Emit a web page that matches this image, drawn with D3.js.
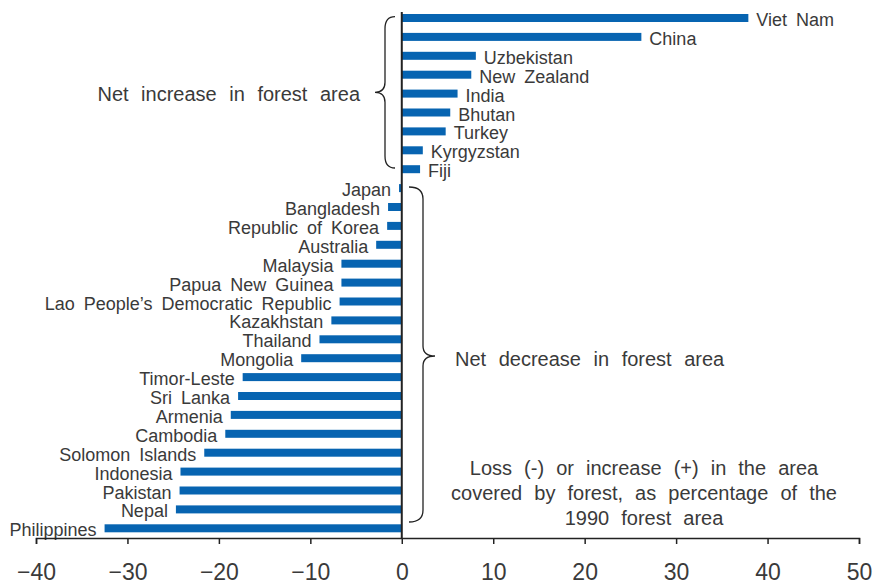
<!DOCTYPE html>
<html>
<head>
<meta charset="utf-8">
<script src="https://cdn.jsdelivr.net/npm/d3@7"></script>
<style>
  body { margin: 0; background: #fff; }
  text { font-family: "Liberation Sans", Arial, sans-serif; fill: #3a3a3a; }
</style>
</head>
<body>
<div id="chart"></div>
<script>
// countries, top to bottom
var countries = [
  "Viet Nam", "China", "Uzbekistan", "New Zealand", "India", "Bhutan", "Turkey",
  "Kyrgyzstan", "Fiji", "Japan", "Bangladesh", "Republic of Korea", "Australia",
  "Malaysia", "Papua New Guinea", "Lao People\u2019s Democratic Republic", "Kazakhstan",
  "Thailand", "Mongolia", "Timor-Leste", "Sri Lanka", "Armenia", "Cambodia",
  "Solomon Islands", "Indonesia", "Pakistan", "Nepal", "Philippines"
]

// change in forest area since 1990, %
var values = [
  37.9, 26.2, 8.1, 7.6, 6.1, 5.3, 4.8,
  2.3, 2.0, -0.3, -1.5, -1.6, -2.8,
  -6.6, -6.6, -6.8, -7.7,
  -9.0, -11.0, -17.4, -17.9, -18.7, -19.3,
  -21.6, -24.2, -24.3, -24.7, -32.5
]

var xTicks = [-40, -30, -20, -10, 0, 10, 20, 30, 40, 50]

var noteLines = [
  "Loss (-) or increase (+) in the area",
  "covered by forest, as percentage of the",
  "1990 forest area"
]

var width = 873, height = 583

var svg = d3.select("#chart").append("svg")
  .attr("width", width)
  .attr("height", height)

var x = d3.scaleLinear().domain([-40, 50]).range([36, 859])
var y = d3.scalePoint().domain(countries).range([18, 528.3])

var data = countries.map(function(c, i) { return {name: c, value: values[i]} })

var barH = 8

// bars
svg.append("g").selectAll("rect")
  .data(data)
  .enter().append("rect")
  .attr("x", function(d) { return x(Math.min(0, d.value)) })
  .attr("y", function(d) { return y(d.name) - barH / 2 })
  .attr("width", function(d) { return Math.abs(x(d.value) - x(0)) })
  .attr("height", barH)
  .attr("fill", "#0764b1")

// country labels
svg.append("g").selectAll("text")
  .data(data)
  .enter().append("text")
  .attr("x", function(d) { return d.value >= 0 ? x(d.value) + 8 : x(d.value) - 8 })
  .attr("y", function(d) { return y(d.name) + 8 })
  .attr("text-anchor", function(d) { return d.value >= 0 ? "start" : "end" })
  .style("font-size", "18px")
  .style("word-spacing", "4px")
  .text(function(d) { return d.name })

// zero line
svg.append("line")
  .attr("x1", x(0)).attr("x2", x(0))
  .attr("y1", 12).attr("y2", 538)
  .attr("stroke", "#222")
  .attr("stroke-width", 2)

// x axis
var xAxis = d3.axisBottom(x)
  .tickValues(xTicks)
  .tickSize(6)
  .tickPadding(20)
  .tickFormat(function(d) { return d < 0 ? "\u2212" + Math.abs(d) : d })

var gx = svg.append("g")
  .attr("transform", "translate(0,538)")
  .call(xAxis)
gx.select(".domain").attr("stroke", "#222").attr("stroke-width", 1.5)
gx.selectAll(".tick line").attr("stroke", "#222").attr("stroke-width", 1.5)
gx.selectAll(".tick text")
  .style("font-family", "'Liberation Sans', Arial, sans-serif")
  .style("font-size", "23px")
  .attr("fill", "#3a3a3a")

// curly brace, vertical, tip pointing toward xt
function brace(xe, xs, xt, y0, y1, ym) {
  return "M" + xe + "," + y0 +
    " Q" + xs + "," + y0 + " " + xs + "," + (y0 + 12) +
    " L" + xs + "," + (ym - 10) +
    " Q" + xs + "," + ym + " " + xt + "," + ym +
    " Q" + xs + "," + ym + " " + xs + "," + (ym + 10) +
    " L" + xs + "," + (y1 - 12) +
    " Q" + xs + "," + y1 + " " + xe + "," + y1
}

svg.append("path")
  .attr("d", brace(395, 385, 375, 16.7, 168, 92.3))
  .attr("fill", "none").attr("stroke", "#222").attr("stroke-width", 1.3)

svg.append("path")
  .attr("d", brace(409, 423, 435, 187, 522, 356))
  .attr("fill", "none").attr("stroke", "#222").attr("stroke-width", 1.3)

svg.append("text")
  .attr("x", 360).attr("y", 101)
  .attr("text-anchor", "end")
  .style("font-size", "20px")
  .style("word-spacing", "7px")
  .text("Net increase in forest area")

svg.append("text")
  .attr("x", 455).attr("y", 366)
  .style("font-size", "20px")
  .style("word-spacing", "7px")
  .text("Net decrease in forest area")

svg.append("g").selectAll("text")
  .data(noteLines)
  .enter().append("text")
  .attr("x", 644)
  .attr("y", function(d, i) { return 475 + i * 25 })
  .attr("text-anchor", "middle")
  .style("font-size", "20px")
  .style("word-spacing", "6.5px")
  .text(function(d) { return d })
</script>
</body>
</html>
